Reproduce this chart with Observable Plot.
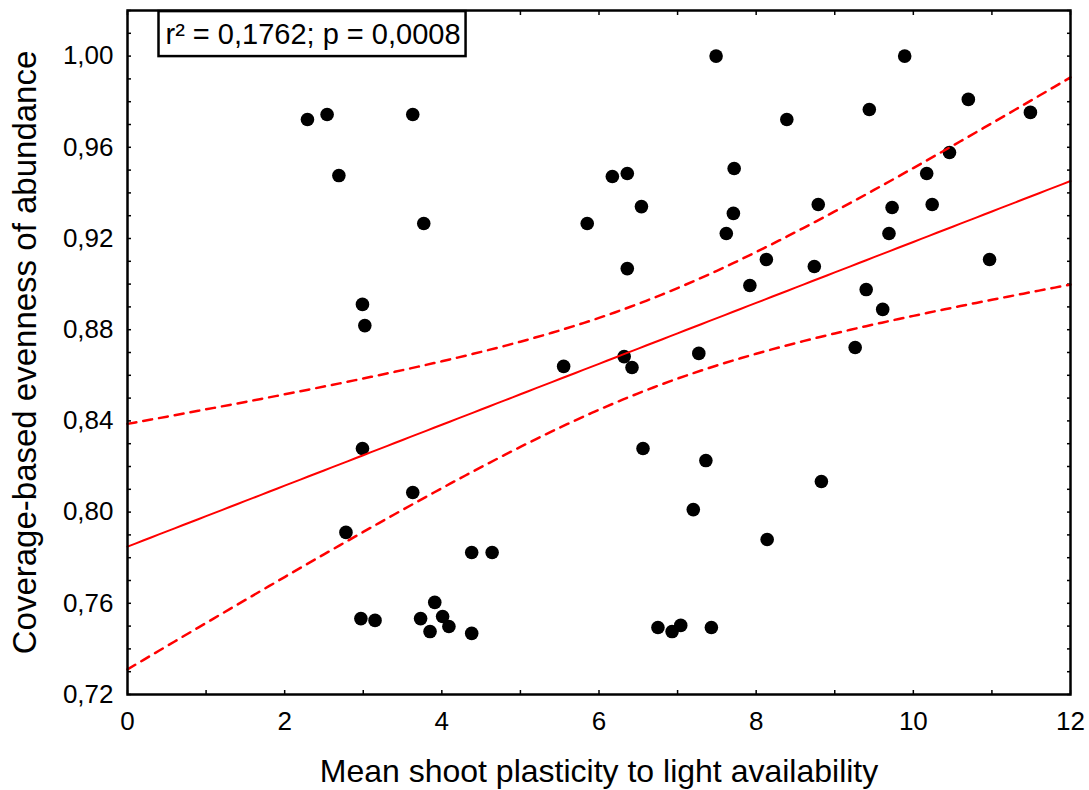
<!DOCTYPE html>
<html>
<head>
<meta charset="utf-8">
<script src="https://cdn.jsdelivr.net/npm/d3@7"></script>
<script src="https://cdn.jsdelivr.net/npm/@observablehq/plot@0.6"></script>
<style>
  html, body { margin: 0; padding: 0; background: #fff; }
  #chart svg { display: block; font-family: "Liberation Sans", Arial, sans-serif; }
</style>
</head>
<body>
<div id="chart"></div>
<script>
// Mean shoot plasticity to light availability (x)
const plasticity = [
  2.29, 2.54, 2.69, 2.99, 3.02, 2.99, 2.78, 2.97, 3.15, 3.63,
  3.77, 3.63, 3.73, 3.85, 3.91, 4.01, 4.09, 4.38, 4.64, 4.38,
  5.55, 5.85, 6.17, 6.36, 6.36, 6.54, 6.32, 6.42, 6.56, 6.75,
  6.93, 7.04, 7.43, 7.20, 7.36, 7.27, 7.49, 7.62, 7.71, 7.72,
  7.92, 8.13, 8.39, 8.14, 8.83, 9.89, 9.44, 10.70, 11.49, 10.46,
  10.17, 10.24, 8.79, 9.73, 9.69, 8.74, 9.40, 9.61, 10.97, 9.26
];
// Coverage-based evenness of abundance (y)
const evenness = [
  0.9722, 0.9744, 0.9476, 0.8911, 0.8818, 0.8279, 0.7911, 0.7533, 0.7525, 0.9744,
  0.9266, 0.8086, 0.7533, 0.7476, 0.7604, 0.7542, 0.7498, 0.7823, 0.7823, 0.7468,
  0.8639, 0.9266, 0.9472, 0.9485, 0.9068, 0.9340, 0.8682, 0.8634, 0.8279, 0.7494,
  0.7476, 0.7503, 0.7494, 0.8011, 0.8226, 0.8696, 1.0000, 0.9222, 0.9310, 0.9507,
  0.8994, 0.9108, 0.9722, 0.7880, 0.8134, 1.0000, 0.9766, 0.9810, 0.9753, 0.9577,
  0.9485, 0.9349, 0.9349, 0.9336, 0.9222, 0.9077, 0.8976, 0.8889, 0.9108, 0.8722
];
const xTickLabels = [0, 2, 4, 6, 8, 10, 12];
const xMinorTicks = [0, 1, 2, 3, 4, 5, 6, 7, 8, 9, 10, 11, 12];
const yTickLabels = [0.72, 0.76, 0.80, 0.84, 0.88, 0.92, 0.96, 1.00];
const yMinorTicks = [0.72, 0.73, 0.74, 0.75, 0.76, 0.77, 0.78, 0.79, 0.80, 0.81, 0.82, 0.83,
  0.84, 0.85, 0.86, 0.87, 0.88, 0.89, 0.90, 0.91, 0.92, 0.93, 0.94, 0.95, 0.96, 0.97,
  0.98, 0.99, 1.00, 1.01, 1.02];
const xTitle = "Mean shoot plasticity to light availability";
const yTitle = "Coverage-based evenness of abundance";
const statsText = "r² = 0,1762; p = 0,0008";
const tCrit = 2.0017; // t(0.975, df = 58)

const points = plasticity.map((x, i) => ({x, y: evenness[i]}));

// Least-squares fit and 95% confidence band of the mean
const n = points.length;
const mx = d3.mean(points, d => d.x);
const my = d3.mean(points, d => d.y);
const sxx = d3.sum(points, d => (d.x - mx) ** 2);
const sxy = d3.sum(points, d => (d.x - mx) * (d.y - my));
const slope = sxy / sxx;
const intercept = my - slope * mx;
const sse = d3.sum(points, d => (d.y - intercept - slope * d.x) ** 2);
const se = Math.sqrt(sse / (n - 2));
const fit = d3.range(0, 12.0001, 0.1).map(x => {
  const yhat = intercept + slope * x;
  const h = tCrit * se * Math.sqrt(1 / n + (x - mx) ** 2 / sxx);
  return {x, fit: yhat, lo: yhat - h, hi: yhat + h};
});

const fmt = d => d.toFixed(2).replace(".", ",");
const red = "#ff0000";

const chart = Plot.plot({
  width: 1089,
  height: 790,
  marginLeft: 127,
  marginRight: 19,
  marginTop: 10,
  marginBottom: 96,
  style: {fontFamily: "'Liberation Sans', Arial, sans-serif", color: "black", background: "white"},
  x: {domain: [0, 12]},
  y: {domain: [0.72, 1.02]},
  marks: [
    Plot.axisY(yMinorTicks, {anchor: "left", tickSize: -4, strokeWidth: 1.5, tickFormat: () => "", label: null}),
    Plot.axisY(yMinorTicks, {anchor: "right", tickSize: -4, strokeWidth: 1.5, tickFormat: () => "", label: null}),
    Plot.axisX(xMinorTicks, {anchor: "bottom", tickSize: -4, strokeWidth: 1.5, tickFormat: () => "", label: null}),
    Plot.axisX(xMinorTicks, {anchor: "top", tickSize: -4, strokeWidth: 1.5, tickFormat: () => "", label: null}),
    Plot.axisY(yTickLabels, {anchor: "left", tickSize: 0, tickPadding: 14, fontSize: 26, tickFormat: fmt, label: null}),
    Plot.axisX(xTickLabels, {anchor: "bottom", tickSize: 0, tickPadding: 17, fontSize: 26, label: null}),
    Plot.text([xTitle], {frameAnchor: "bottom", dy: 87, fontSize: 32, fill: "black"}),
    Plot.text([yTitle], {frameAnchor: "left", textAnchor: "middle", lineAnchor: "middle", rotate: -90, dx: -102, fontSize: 33, fill: "black"}),
    Plot.dot(points, {x: "x", y: "y", r: 6.8, fill: "black"}),
    Plot.line(fit, {x: "x", y: "fit", stroke: red, strokeWidth: 2}),
    Plot.line(fit, {x: "x", y: "lo", stroke: red, strokeWidth: 2.5, strokeDasharray: "9,7"}),
    Plot.line(fit, {x: "x", y: "hi", stroke: red, strokeWidth: 2.5, strokeDasharray: "9,7"}),
    Plot.frame({stroke: "black", strokeWidth: 2.5}),
    Plot.text([statsText], {frameAnchor: "top-left", textAnchor: "start", dx: 38, dy: 13, fontSize: 29, fill: "black", className: "stats"})
  ]
});

document.getElementById("chart").appendChild(chart);

// Box around the statistics annotation
const statsNode = d3.select(chart).select("g.stats text").node();
if (statsNode) {
  const bb = statsNode.getBBox();
  const g = statsNode.parentNode;
  const ctm = g.getAttribute("transform") || "";
  const m = statsNode.transform.baseVal.consolidate();
  const ox = m ? m.matrix.e : 0;
  const oy = m ? m.matrix.f : 0;
  d3.select(g.parentNode).insert("rect", () => g)
    .attr("transform", ctm)
    .attr("x", bb.x - 7 + ox)
    .attr("y", bb.y - 7 + oy)
    .attr("width", bb.width + 12)
    .attr("height", bb.height + 13)
    .attr("fill", "white")
    .attr("stroke", "black")
    .attr("stroke-width", 2.5);
}
</script>
</body>
</html>
